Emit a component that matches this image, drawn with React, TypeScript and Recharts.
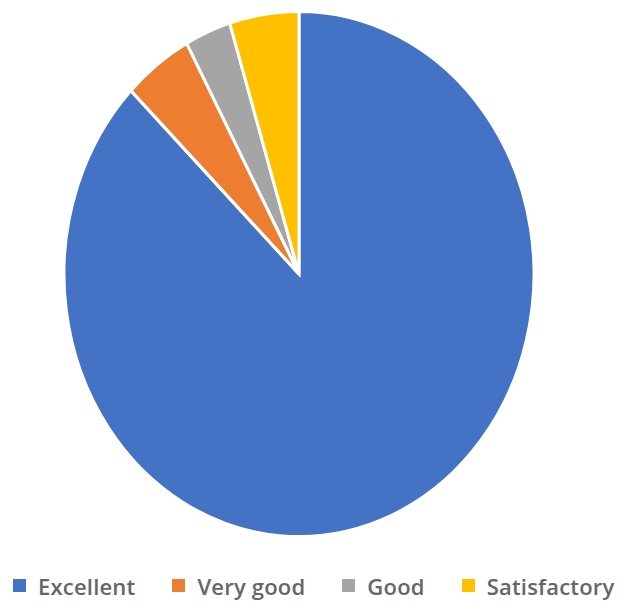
import { PieChart, Pie, Cell } from 'recharts'

const categories = ['Excellent', 'Very good', 'Good', 'Satisfactory']
const counts = [55, 3, 2, 3]
const colors = ['#4472C4', '#ED7D31', '#A5A5A5', '#FFC000']

const data = categories.map((name, i) => ({ name, value: counts[i] }))

export default function App() {
  return (
    <div style={{ position: 'relative', width: 608, height: 594, fontFamily: '"Open Sans", sans-serif' }}>
      {/* pie is drawn round, then stretched vertically like the reference */}
      <div
        style={{
          position: 'absolute',
          left: 50.5,
          top: 26,
          width: 480,
          height: 480,
          transform: 'scaleY(1.118)',
          transformOrigin: 'center',
        }}
      >
        <PieChart width={480} height={480} margin={{ top: 0, right: 0, bottom: 0, left: 0 }}>
          <Pie
            data={data}
            dataKey="value"
            nameKey="name"
            cx={240}
            cy={240}
            outerRadius={235}
            startAngle={90}
            endAngle={-270}
            stroke="#ffffff"
            strokeWidth={3}
            isAnimationActive={false}
          >
            {data.map((d, i) => (
              <Cell key={d.name} fill={colors[i]} />
            ))}
          </Pie>
        </PieChart>
      </div>
      <div
        style={{
          position: 'absolute',
          left: 5,
          top: 563,
          display: 'flex',
          alignItems: 'center',
          gap: 37,
          fontSize: 22,
          lineHeight: '30px',
          letterSpacing: 0.2,
          fontWeight: 600,
          color: '#666666',
          whiteSpace: 'nowrap',
        }}
      >
        {categories.map((c, i) => (
          <div key={c} style={{ display: 'flex', alignItems: 'center', gap: 12 }}>
            <span
              style={{
                display: 'inline-block',
                width: 13,
                height: 13,
                background: colors[i],
                position: 'relative',
                top: -1,
              }}
            />
            <span>{c}</span>
          </div>
        ))}
      </div>
    </div>
  )
}
